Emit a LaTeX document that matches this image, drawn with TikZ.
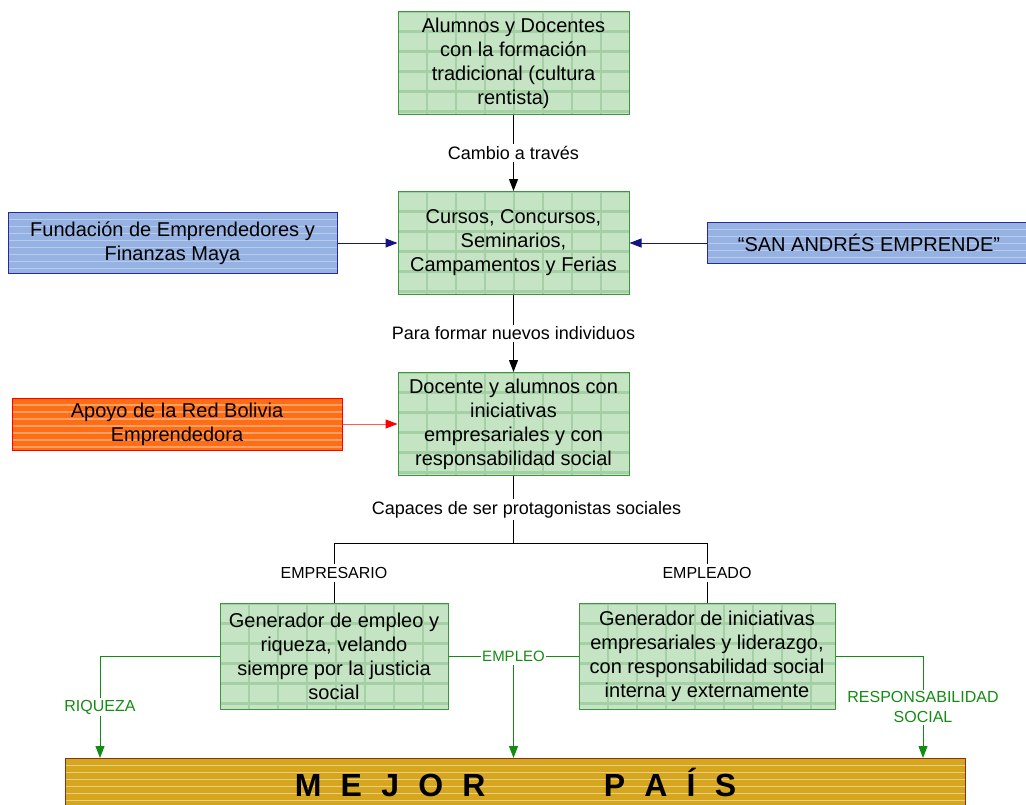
\documentclass[tikz,border=0pt]{standalone}
\usepackage{fontspec}
\setmainfont{Liberation Sans}
\usetikzlibrary{positioning,arrows.meta}

\definecolor{tilegreen}{RGB}{196,228,196}
\definecolor{tileedge}{RGB}{165,208,165}
\definecolor{boxgreen}{RGB}{60,150,60}
\definecolor{linegreen}{RGB}{20,140,20}
\definecolor{tileblue}{RGB}{150,178,226}
\definecolor{boxblue}{RGB}{40,40,160}
\definecolor{arrowblue}{RGB}{20,20,130}
\definecolor{tileorange}{RGB}{255,110,20}
\definecolor{arrowred}{RGB}{255,90,90}
\definecolor{tilegold}{RGB}{214,166,30}
\definecolor{barbrown}{RGB}{140,50,20}

\newcommand\gapl{\hspace{.6em}}

\begin{document}
\begin{tikzpicture}[
    x=1pt,y=1pt,
    >={Triangle[length=12pt,width=9pt]},
    line width=1pt,
    every node/.style={font=\fontsize{20}{24}\selectfont},
    stripes/.style={path picture={
        \foreach \k in {1,...,30}
          \draw[white,opacity=#1,line width=1.6pt]
            ([yshift=-\k*7pt]path picture bounding box.north west) --
            ([yshift=-\k*7pt]path picture bounding box.north east);}},
    tiles/.style={path picture={
        \foreach \k in {0,...,12}
          \draw[tileedge,line width=2.5pt]
            ([xshift=\k*29pt]path picture bounding box.north west) --
            ([xshift=\k*29pt]path picture bounding box.south west);
        \foreach \k in {0,...,6}
          \draw[tileedge,line width=2.5pt]
            ([yshift=-\k*20pt]path picture bounding box.north west) --
            ([yshift=-\k*20pt]path picture bounding box.north east);}},
    gbox/.style={draw=boxgreen,fill=tilegreen,tiles,align=center,
        minimum width=231pt,minimum height=103pt,inner sep=2pt},
    bbox/.style={draw=boxblue,fill=tileblue,stripes=.35,align=center,inner sep=2pt},
    obox/.style={draw=red,fill=tileorange,stripes=.35,align=center,inner sep=2pt},
    barbox/.style={draw=barbrown,fill=tilegold,stripes=.45,anchor=north,
        minimum width=900pt,minimum height=52pt,text height=23pt,text depth=0pt,
        font=\fontsize{32}{36}\selectfont\bfseries},
    lbl/.style={fill=white,inner sep=2pt,font=\fontsize{18}{22}\selectfont},
    role/.style={fill=white,inner sep=3pt,font=\fontsize{16}{19}\selectfont},
    glbl/.style={fill=white,inner sep=2pt,text=linegreen,align=center,
        font=\fontsize{16}{20}\selectfont},
    gline/.style={draw=linegreen}
]
\useasboundingbox (0,0) rectangle (1026,-804);

% Main column
\node[gbox] (alumnos) at (513.5,-63) {Alumnos y Docentes\\con la formación\\tradicional (cultura\\rentista)};
\node[gbox,below=76pt of alumnos] (cursos) {Cursos, Concursos,\\Seminarios,\\Campamentos y Ferias};
\node[gbox,below=77pt of cursos] (docente) {Docente y alumnos con\\iniciativas\\empresariales y con\\responsabilidad social};

\draw[->] (alumnos) -- node[lbl] {Cambio a través} (cursos);
\draw[->] (cursos) -- node[lbl] {Para formar nuevos individuos} (docente);

% Support
\node[bbox,left=60pt of cursos,minimum width=329pt,minimum height=61pt] (fundacion) {Fundación de Emprendedores y\\Finanzas Maya};
\node[bbox,right=77pt of cursos,minimum width=324pt,minimum height=41pt] (sanandres) {“SAN ANDRÉS EMPRENDE”};
\node[obox,left=55pt of docente,minimum width=330pt,minimum height=52pt] (apoyo) {Apoyo de la Red Bolivia\\Emprendedora};

\draw[->,arrowblue] (fundacion) -- (cursos);
\draw[->,arrowblue] (sanandres) -- (cursos);
\draw[arrowred,-{Triangle[length=12pt,width=9pt,color=red]}] (apoyo) -- (docente);

% Roles
\coordinate[below=67pt of docente] (split);
\node[gbox,below=127pt of docente,xshift=-179.5pt,minimum width=228pt,minimum height=106pt] (empresario) {Generador de empleo y\\riqueza, velando\\siempre por la justicia\\social};
\node[gbox,below=127pt of docente,xshift=193.5pt,minimum width=256pt,minimum height=106pt] (empleado) {Generador de iniciativas\\empresariales y liderazgo,\\con responsabilidad social\\interna y externamente};

\draw (docente) -- node[lbl,xshift=13pt] {Capaces de ser protagonistas sociales} (split);
\draw (empresario.north) -- node[role] {EMPRESARIO} (empresario.north |- split)
      -- (empleado.north |- split) -- node[role] {EMPLEADO} (empleado.north);

% Result
\node[barbox,below=282pt of docente,xshift=2pt] (pais) {M\gapl E\gapl J\gapl O\gapl R\hspace{3.7em}P\gapl A\gapl Í\gapl S};

\draw[gline] (empresario) -- node[glbl,inner sep=1pt,font=\fontsize{15}{18}\selectfont] (empleo) {EMPLEO} (empleado);
\draw[gline,->] ([yshift=-2pt]empleo.south) -- (empleo.south |- pais.north);
\draw[gline,->] (empresario.west) -| node[glbl,pos=.75] {RIQUEZA} ([xshift=35pt]pais.north west);
\draw[gline,->] (empleado.east) -| node[glbl,pos=.75] {RESPONSABILIDAD\\SOCIAL} ([xshift=-43pt]pais.north east);

\end{tikzpicture}
\end{document}
